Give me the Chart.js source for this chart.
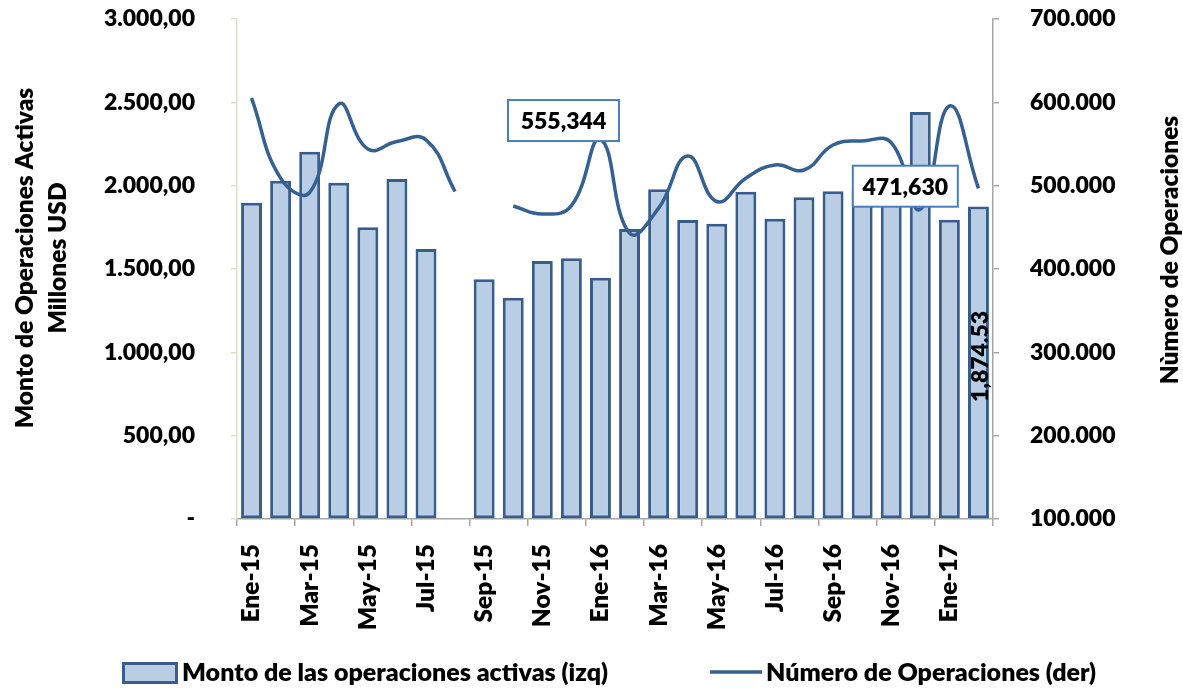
<!DOCTYPE html>
<html lang="es">
<head>
<meta charset="utf-8">
<title>Operaciones activas</title>
<script src="https://cdn.jsdelivr.net/npm/chart.js@4.4.1/dist/chart.umd.min.js"></script>
<style>
  html, body { margin: 0; padding: 0; background: #fff; }
  #wrap { width: 1183px; height: 689px; }
</style>
</head>
<body>
<div id="wrap"><canvas id="grafico" width="1183" height="689"></canvas></div>
<script>
// meses, montos (millones USD) y número de operaciones
const meses = ['Ene-15', 'Feb-15', 'Mar-15', 'Abr-15', 'May-15', 'Jun-15', 'Jul-15', 'Ago-15',
  'Sep-15', 'Oct-15', 'Nov-15', 'Dic-15', 'Ene-16', 'Feb-16', 'Mar-16', 'Abr-16', 'May-16',
  'Jun-16', 'Jul-16', 'Ago-16', 'Sep-16', 'Oct-16', 'Nov-16', 'Dic-16', 'Ene-17', 'Feb-17'];

const montoActivas = [1898, 2030, 2204, 2018, 1750, 2040, 1620, null,
  1438, 1328, 1548, 1564, 1448, 1740, 1978, 1794, 1772,
  1964, 1802, 1930, 1966, 1985, 2010, 2442, 1796, 1874.53];

const numeroOperaciones = [605000, 509000, 492000, 598000, 544000, 553000, 555000, 493000,
  null, 475600, 466000, 476000, 555344, 443000, 473000, 535600, 481000,
  509000, 524800, 518800, 548800, 553600, 551600, 471630, 595600, 496800];

const ticksMonto = [0, 500, 1000, 1500, 2000, 2500, 3000];
const ticksOperaciones = [100000, 200000, 300000, 400000, 500000, 600000, 700000];

const tituloIzq = ['Monto de Operaciones Activas', 'Millones USD'];
const tituloDer = 'Nùmero de Operaciones';

// puntos de la línea con recuadro y barra con valor vertical
const etiquetasLinea = [
  { i: 12, dx: -37, dy: 1.5, w: 111 },
  { i: 23, dx: -15, dy: -2.6, w: 105 }
];
const etiquetaBarra = 25;

const FUENTE = 'Lato';
const PESO = '800';
const AZUL_OSCURO = '#385D8A';
const AZUL_LINEA = '#376092';
const AZUL_CLARO = '#B9CDE5';
const GRIS = '#A6A6A6';
const VERDE = '#D7E4BD';

const miles = n => String(n).replace(/\B(?=(\d{3})+(?!\d))/g, '.');

Chart.defaults.font.family = FUENTE;
Chart.defaults.font.weight = PESO;
Chart.defaults.font.size = 23;
Chart.defaults.color = '#000';

// el espacio sobre el área de gráfico lo fija layout.padding, no el padding de las marcas
function ajustarEje(ancho) {
  return scale => {
    scale.width = ancho;
    scale.paddingTop = 14;
    scale.paddingBottom = 14;
  };
}

const etiquetas = {
  id: 'etiquetas',
  afterDatasetsDraw(chart) {
    const { ctx } = chart;
    const barras = chart.getDatasetMeta(0).data;
    const linea = chart.getDatasetMeta(1).data;
    ctx.save();
    ctx.font = `${PESO} 23px ${FUENTE}`;
    ctx.textAlign = 'center';
    ctx.textBaseline = 'middle';

    etiquetasLinea.forEach(e => {
      const p = linea[e.i];
      const valor = numeroOperaciones[e.i];
      const cx = p.x + e.dx;
      const bottom = p.y + e.dy;
      const h = 41;
      ctx.fillStyle = '#fff';
      ctx.fillRect(cx - e.w / 2, bottom - h, e.w, h);
      ctx.strokeStyle = '#4A7EBB';
      ctx.lineWidth = 2;
      ctx.strokeRect(cx - e.w / 2, bottom - h, e.w, h);
      ctx.fillStyle = '#000';
      ctx.fillText(valor.toLocaleString('en-US'), cx, bottom - h / 2 + 1);
    });

    const b = barras[etiquetaBarra];
    const texto = montoActivas[etiquetaBarra].toLocaleString('en-US', { minimumFractionDigits: 2 });
    ctx.save();
    ctx.translate(b.x + 2, (b.y + b.base) / 2 - 6);
    ctx.rotate(-Math.PI / 2);
    ctx.fillStyle = '#000';
    ctx.fillText(texto, 0, 0);
    ctx.restore();
    ctx.restore();
  }
};

const titulosYLeyenda = {
  id: 'titulosYLeyenda',
  afterDraw(chart) {
    const { ctx, chartArea } = chart;
    const cy = (chartArea.top + chartArea.bottom) / 2;
    ctx.save();
    ctx.fillStyle = '#000';
    ctx.textAlign = 'center';
    ctx.textBaseline = 'middle';

    // títulos de ejes, leídos de abajo hacia arriba
    ctx.font = `${PESO} 24.5px ${FUENTE}`;
    ctx.save();
    ctx.translate(25, cy - 11);
    ctx.rotate(-Math.PI / 2);
    ctx.fillText(tituloIzq[0], 0, 0);
    ctx.fillText(tituloIzq[1], 0, 33);
    ctx.restore();

    ctx.save();
    ctx.translate(1170, cy - 19);
    ctx.rotate(-Math.PI / 2);
    ctx.fillText(tituloDer, 0, 0);
    ctx.restore();

    // leyenda
    ctx.font = `${PESO} 25px ${FUENTE}`;
    const [barra, linea] = chart.data.datasets;
    ctx.fillStyle = barra.backgroundColor;
    ctx.fillRect(123.5, 663.5, 53, 19);
    ctx.strokeStyle = barra.borderColor;
    ctx.lineWidth = 3;
    ctx.strokeRect(123.5, 663.5, 53, 19);
    ctx.fillStyle = '#000';
    ctx.textAlign = 'left';
    ctx.fillText(barra.label, 182, 673);

    ctx.beginPath();
    ctx.moveTo(710, 672);
    ctx.lineTo(762, 672);
    ctx.strokeStyle = linea.borderColor;
    ctx.lineWidth = 3.5;
    ctx.stroke();
    ctx.fillText(linea.label, 766, 673);
    ctx.restore();
  }
};

new Chart(document.getElementById('grafico'), {
  data: {
    labels: meses,
    datasets: [
      {
        type: 'bar',
        label: 'Monto de las operaciones activas (izq)',
        data: montoActivas,
        yAxisID: 'yIzq',
        backgroundColor: AZUL_CLARO,
        borderColor: AZUL_OSCURO,
        borderWidth: 3,
        borderSkipped: false,
        categoryPercentage: 1,
        barPercentage: 0.72,
        order: 2
      },
      {
        type: 'line',
        label: 'Número de Operaciones (der)',
        data: numeroOperaciones,
        yAxisID: 'yDer',
        borderColor: AZUL_LINEA,
        borderWidth: 3.5,
        pointRadius: 0,
        tension: 0.45,
        spanGaps: false,
        order: 1
      }
    ]
  },
  options: {
    responsive: false,
    animation: false,
    layout: { padding: { top: 19, bottom: 50, left: 0, right: 0 } },
    plugins: {
      legend: { display: false },
      tooltip: { enabled: false }
    },
    scales: {
      x: {
        offset: true,
        grid: {
          offset: true,
          drawOnChartArea: false,
          tickLength: 7,
          lineWidth: 1.5,
          tickColor: c => (c.index === undefined || c.index % 2 === 0) ? GRIS : 'rgba(0,0,0,0)'
        },
        border: { color: GRIS, width: 1.5 },
        ticks: {
          autoSkip: false,
          minRotation: 90,
          maxRotation: 90,
          padding: 18,
          font: { size: 24.5 },
          callback(value, index) {
            return index % 2 === 0 ? this.getLabelForValue(value) : '';
          }
        },
        afterFit(scale) { scale.height = 120; }
      },
      yIzq: {
        position: 'left',
        min: ticksMonto[0],
        max: ticksMonto[ticksMonto.length - 1],
        afterBuildTicks(scale) { scale.ticks = ticksMonto.map(v => ({ value: v })); },
        ticks: {
          padding: 36,
          callback: v => v === 0 ? '-' : miles(v) + ',00'
        },
        grid: { drawOnChartArea: false, tickLength: 6, lineWidth: 1.5, tickColor: VERDE },
        border: { color: VERDE, width: 1.5 },
        afterFit: ajustarEje(237)
      },
      yDer: {
        position: 'right',
        min: ticksOperaciones[0],
        max: ticksOperaciones[ticksOperaciones.length - 1],
        afterBuildTicks(scale) { scale.ticks = ticksOperaciones.map(v => ({ value: v })); },
        ticks: {
          padding: 31,
          callback: v => miles(v)
        },
        grid: { drawOnChartArea: false, tickLength: 6, lineWidth: 1.5, tickColor: GRIS },
        border: { color: GRIS, width: 1.5 },
        afterFit: ajustarEje(190)
      }
    }
  },
  plugins: [etiquetas, titulosYLeyenda]
});
</script>
</body>
</html>
